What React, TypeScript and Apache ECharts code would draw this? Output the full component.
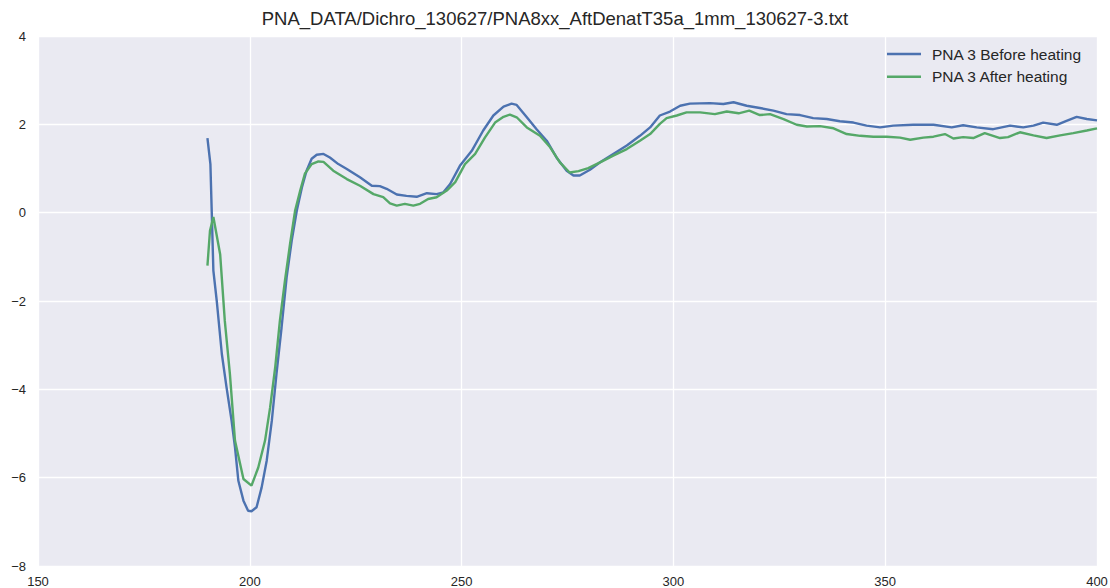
import React, { useEffect, useRef } from "react";
import * as echarts from "echarts";

const titleText = "PNA_DATA/Dichro_130627/PNA8xx_AftDenatT35a_1mm_130627-3.txt";
const seriesNames = ["PNA 3 Before heating", "PNA 3 After heating"];

const beforeX = [190, 190.7, 191.4, 192.2, 193.4, 194.5, 195.7, 196.5, 197.3, 198.5, 199.6, 200.4, 201.6, 202.8, 204.0, 205.2, 206.3, 207.5, 208.7, 209.9, 211.1, 212.3, 213.4, 214.6, 215.8, 217.4, 218.9, 220.9, 222.9, 226, 228.8, 230.7, 232.3, 234.7, 237, 239.4, 241.8, 244.1, 245.7, 247.3, 249.6, 252.4, 255.1, 257.5, 259.9, 261.8, 263, 265.4, 267.7, 270.1, 272.4, 274.8, 276.4, 277.9, 280.3, 282.7, 285.8, 289, 292.1, 294.5, 296.8, 299.2, 301.6, 303.9, 308.6, 311.8, 314.2, 317.3, 320.4, 323.6, 326.7, 329.9, 333, 336.2, 339.3, 342.5, 345.6, 348.8, 351.9, 356.6, 361.4, 365.7, 368.4, 371.6, 375.5, 379.5, 382.6, 385, 387.3, 390.5, 392.8, 395.2, 397.6, 400];
const beforeY = [1.69, 1.1, -1.31, -2.0, -3.2, -3.95, -4.71, -5.31, -6.07, -6.52, -6.75, -6.76, -6.67, -6.22, -5.61, -4.71, -3.65, -2.6, -1.46, -0.63, 0.05, 0.57, 0.95, 1.22, 1.31, 1.33, 1.25, 1.1, 0.99, 0.8, 0.61, 0.6, 0.54, 0.41, 0.38, 0.36, 0.44, 0.42, 0.46, 0.65, 1.06, 1.4, 1.86, 2.2, 2.4, 2.47, 2.44, 2.16, 1.89, 1.63, 1.25, 0.95, 0.84, 0.84, 0.97, 1.14, 1.33, 1.52, 1.74, 1.93, 2.2, 2.29, 2.42, 2.47, 2.48, 2.46, 2.5, 2.42, 2.37, 2.31, 2.23, 2.21, 2.14, 2.12, 2.07, 2.04, 1.97, 1.93, 1.97, 1.99, 1.99, 1.93, 1.98, 1.93, 1.89, 1.97, 1.93, 1.97, 2.04, 1.99, 2.08, 2.17, 2.12, 2.09];

const afterX = [190, 190.6, 191.4, 193.0, 194.1, 195.3, 196.5, 198.5, 200.4, 202, 203.6, 204.8, 206, 207.1, 208.3, 209.5, 210.7, 211.9, 213, 214.6, 216.2, 217.4, 219.7, 222.9, 226, 229.2, 231.5, 233.1, 234.7, 236.6, 238.6, 240.2, 242.1, 244.1, 246.5, 248.5, 250.8, 253.2, 255.5, 257.9, 259.9, 261.4, 263, 265.4, 268.5, 270.9, 273.2, 275.5, 277.6, 279.9, 282.7, 285.8, 289, 292.1, 294.5, 296.8, 298.4, 300.8, 303.1, 306.3, 309.8, 312.6, 315.4, 317.9, 320.4, 322.8, 326, 329.1, 331.5, 334.6, 337.8, 340.9, 344.1, 347.2, 350.4, 353.5, 355.9, 359, 361.4, 364.1, 366.1, 368.4, 370.8, 373.5, 377.1, 379, 381.8, 385, 388.1, 391.3, 394.4, 397.6, 400];
const afterY = [-1.2, -0.41, -0.1, -0.94, -2.45, -3.65, -5.16, -6.03, -6.18, -5.77, -5.16, -4.41, -3.5, -2.45, -1.54, -0.71, 0.05, 0.5, 0.88, 1.1, 1.16, 1.15, 0.95, 0.76, 0.61, 0.42, 0.35, 0.21, 0.16, 0.2, 0.16, 0.2, 0.31, 0.35, 0.5, 0.69, 1.1, 1.33, 1.7, 2.04, 2.17, 2.22, 2.16, 1.93, 1.74, 1.48, 1.14, 0.91, 0.94, 1.01, 1.14, 1.29, 1.44, 1.63, 1.78, 2.01, 2.14, 2.2, 2.27, 2.27, 2.23, 2.29, 2.25, 2.31, 2.21, 2.23, 2.12, 1.99, 1.95, 1.96, 1.91, 1.78, 1.74, 1.72, 1.72, 1.7, 1.65, 1.7, 1.72, 1.78, 1.68, 1.71, 1.69, 1.8, 1.69, 1.71, 1.82, 1.75, 1.69, 1.75, 1.8, 1.86, 1.91];

const xMin = 150, xMax = 400, xStep = 50;
const yMin = -8, yMax = 4, yStep = 2;

const colors = ["#4C72B0", "#55A868"];
const textColor = "#262626";
const font = "'Liberation Sans', Arial, sans-serif";

export default function App() {
  const ref = useRef<HTMLDivElement>(null);
  useEffect(() => {
    if (!ref.current) return;
    const chart = echarts.init(ref.current, null, { renderer: "svg" });
    const pair = (xs: number[], ys: number[]) => xs.map((x, i) => [x, ys[i]]);
    chart.setOption({
      animation: false,
      backgroundColor: "#ffffff",
      textStyle: { fontFamily: font },
      title: {
        text: titleText,
        left: "center",
        top: 4,
        textStyle: { fontFamily: font, fontSize: 18.5, fontWeight: "normal", color: textColor },
      },
      legend: {
        orient: "vertical",
        left: 882,
        top: 41,
        icon: "rect",
        itemWidth: 34,
        itemHeight: 2.5,
        itemGap: 6.7,
        textStyle: { fontFamily: font, fontSize: 15.5, lineHeight: 16, color: textColor, padding: [0, 0, 0, 6] },
        data: seriesNames,
      },
      grid: {
        left: 38,
        right: 13,
        top: 36,
        bottom: 22,
        show: true,
        backgroundColor: "#EAEAF2",
        borderWidth: 0,
        containLabel: false,
        outerBoundsMode: "none",
      },
      xAxis: {
        type: "value",
        min: xMin,
        max: xMax,
        interval: xStep,
        axisLine: { show: false },
        axisTick: { show: false },
        axisLabel: { color: textColor, fontSize: 13, fontFamily: font, margin: 9, showMinLabel: true, showMaxLabel: true },
        splitLine: { show: true, lineStyle: { color: "#ffffff", width: 1.3 } },
      },
      yAxis: {
        type: "value",
        min: yMin,
        max: yMax,
        interval: yStep,
        axisLine: { show: false },
        axisTick: { show: false },
        axisLabel: {
          color: textColor,
          fontSize: 13,
          fontFamily: font,
          margin: 12,
          formatter: (v: number) => String(v).replace("-", "\u2212"),
        },
        splitLine: { show: true, lineStyle: { color: "#ffffff", width: 1.3 } },
      },
      series: [
        {
          name: seriesNames[0],
          type: "line",
          data: pair(beforeX, beforeY),
          showSymbol: false,
          symbol: "none",
          color: colors[0],
          itemStyle: { color: colors[0] },
          lineStyle: { color: colors[0], width: 2.4 },
        },
        {
          name: seriesNames[1],
          type: "line",
          data: pair(afterX, afterY),
          showSymbol: false,
          symbol: "none",
          color: colors[1],
          itemStyle: { color: colors[1] },
          lineStyle: { color: colors[1], width: 2.4 },
        },
      ],
    });
    return () => chart.dispose();
  }, []);
  return (
    <div
      ref={ref}
      style={{ position: "fixed", left: 0, top: 0, width: 1110, height: 588 }}
    />
  );
}
